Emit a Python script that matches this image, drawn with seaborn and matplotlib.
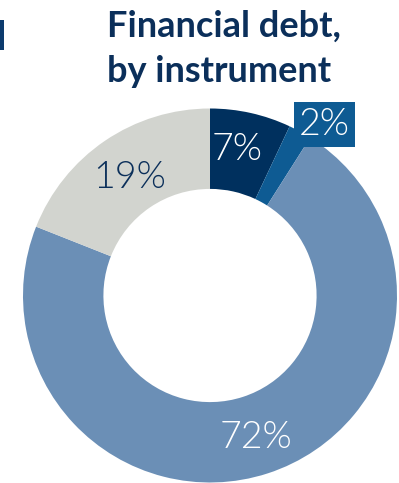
import matplotlib
matplotlib.use("Agg")
import matplotlib.pyplot as plt
import seaborn as sns
import numpy as np

# Data
categories = ["Instrument A", "Instrument B", "Instrument C", "Instrument D"]
shares = [7, 2, 72, 19]
labels = ["7%", "2%", "72%", "19%"]
title_lines = ["Financial debt,", "by instrument"]

colors = ["#00305e", "#0e5b93", "#6b8fb6", "#d2d4cf"]
label_colors = ["white", "white", "white", "#0b2f5a"]

sns.set_theme(style="white")
plt.rcParams["font.family"] = ["Lato", "DejaVu Sans"]

W, H = 399, 483
fig = plt.figure(figsize=(W / 100, H / 100), dpi=100)
fig.patch.set_facecolor("white")

# pie axes: center (210, 295), radius 187 px
cx, cy, R = 210, 295.5, 187
ax = fig.add_axes([(cx - R) / W, (H - cy - R) / H, 2 * R / W, 2 * R / H])

wedges, _ = ax.pie(shares, colors=colors, startangle=90, counterclock=False,
                   radius=1.0, wedgeprops=dict(width=0.43, edgecolor="none"))
ax.set_xlim(-1, 1)
ax.set_ylim(-1, 1)
ax.axis("off")

label_r = [0.79, 1.10, 0.80, 0.76]
angle_shift = [-2, 5, 0, 0]
for w, lab, col, r, da in zip(wedges, labels, label_colors, label_r, angle_shift):
    ang = np.deg2rad((w.theta1 + w.theta2) / 2 - da)
    x, y = r * np.cos(ang), r * np.sin(ang)
    kw = {}
    if r > 1:
        kw["bbox"] = dict(boxstyle="square,pad=0.14", fc=w.get_facecolor(), ec="none")
    ax.text(x, y, lab, ha="center", va="center", color=col, fontsize=27,
            fontweight=300, clip_on=False, **kw)

# Title
fig.text(107 / W, 1 - 37 / H, title_lines[0], ha="left", va="baseline",
         fontsize=26, fontweight="bold", color="#0b2f5a")
fig.text(107 / W, 1 - 82 / H, title_lines[1], ha="left", va="baseline",
         fontsize=26, fontweight="bold", color="#0b2f5a")

# cropped neighbouring mark at top-left
fig.patches.append(plt.Rectangle((0, 1 - 50 / H), 3.5 / W, 30 / H,
                                 transform=fig.transFigure, fc="#0d3b6e", ec="none"))

fig.savefig("out.png", dpi=100, facecolor="white")
